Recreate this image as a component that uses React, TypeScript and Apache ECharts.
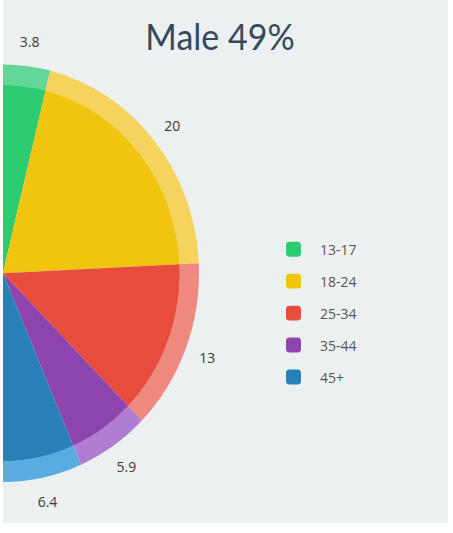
import React, { useEffect, useRef } from "react";
import * as echarts from "echarts";

const categories = ["13-17", "18-24", "25-34", "35-44", "45+"];
const values = [3.8, 20, 13, 5.9, 6.4];
const innerColors = ["#2ecc71", "#f1c40f", "#e74c3c", "#8e44ad", "#2980b9"];
const outerColors = ["#63d797", "#f5d35c", "#ef887d", "#b07dd2", "#5aabe0"];
const titleText = "Male 49%";

const SCALE_Y = 1.065;
const W = 445;
const H = Math.round(523 / SCALE_Y);

export default function App() {
  const ref = useRef<HTMLDivElement>(null);
  useEffect(() => {
    if (!ref.current) return;
    const chart = echarts.init(ref.current, undefined, { renderer: "svg", width: W, height: H });
    const hiddenValue = values.reduce((a, b) => a + b, 0);
    const makeData = (colors: string[] | null, withLabel: boolean) => {
      const d: any[] = categories.map((name, i) => ({
        name,
        value: values[i],
        itemStyle: { color: colors ? colors[i] : "rgba(0,0,0,0)" },
        label: { show: withLabel },
      }));
      d.push({
        name: "__hidden",
        value: hiddenValue,
        itemStyle: { color: "rgba(0,0,0,0)" },
        label: { show: false },
      });
      return d;
    };
    const center = [0, 256.5];
    chart.setOption({
      animation: false,
      backgroundColor: "transparent",
      graphic: [
        {
          type: "text",
          x: 217,
          y: 33,
          style: {
            text: titleText,
            fill: "#34495e",
            font: "400 34px Lato",
            textAlign: "center",
            textVerticalAlign: "middle",
          },
        },
      ],
      legend: {
        data: categories.map((c, i) => ({ name: c, icon: "roundRect", itemStyle: { color: innerColors[i] } })),
        orient: "vertical",
        left: 283,
        top: 227,
        padding: 0,
        itemWidth: 15,
        itemHeight: 14,
        itemGap: 16,
        selectedMode: false,
        textStyle: { fontSize: 14, color: "#555", fontFamily: "Open Sans", padding: [0, 0, 0, 14] },
      },
      series: [
        {
          type: "pie",
          name: "inner",
          center,
          radius: [0, 177],
          startAngle: 90,
          clockwise: true,
          silent: true,
          label: { show: false },
          labelLine: { show: false },
          data: makeData(innerColors, false),
        },
        {
          type: "pie",
          name: "outer",
          center,
          radius: [176.5, 196],
          startAngle: 90,
          clockwise: true,
          silent: true,
          label: { show: false },
          labelLine: { show: false },
          data: makeData(outerColors, false),
        },
        {
          type: "pie",
          name: "labels",
          center,
          radius: [208, 224],
          startAngle: 90,
          clockwise: true,
          silent: true,
          avoidLabelOverlap: false,
          minShowLabelAngle: 0,
          labelLine: { show: false },
          label: {
            position: "inside",
            formatter: "{c}",
            color: "#3a3a3a",
            fontSize: 14,
            fontFamily: "Open Sans",
          },
          data: makeData(null, true),
        },
      ],
    });
    return () => chart.dispose();
  }, []);

  return (
    <div style={{ position: "fixed", left: 0, top: 0, width: 453, height: 533, background: "#ffffff", overflow: "hidden" }}>
      <div
        style={{
          position: "absolute",
          left: 3,
          top: 0,
          width: W,
          height: H,
          background: "#ecf0f1",
          transform: `scaleY(${SCALE_Y})`,
          transformOrigin: "top left",
          overflow: "hidden",
        }}
      >
        <div ref={ref} style={{ width: W, height: H }} />
      </div>
    </div>
  );
}
